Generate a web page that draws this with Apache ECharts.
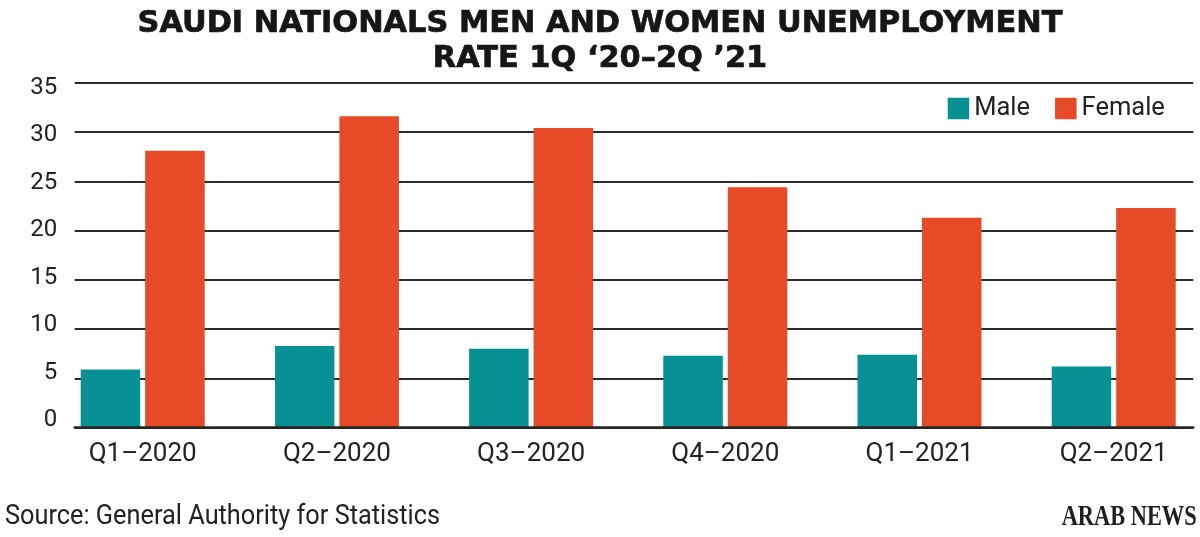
<!DOCTYPE html>
<html>
<head>
<meta charset="utf-8">
<script src="https://cdn.jsdelivr.net/npm/echarts@6/dist/echarts.min.js"></script>
<style>
  html, body { margin: 0; padding: 0; background: #ffffff; }
  #chart { width: 1200px; height: 537px; }
</style>
</head>
<body>
<div id="chart"></div>
<script>
// ---- data ----
const categories = ['Q1–2020', 'Q2–2020', 'Q3–2020', 'Q4–2020', 'Q1–2021', 'Q2–2021'];
const maleValues = [5.9, 8.3, 8.0, 7.3, 7.4, 6.2];
const femaleValues = [28.1, 31.6, 30.4, 24.4, 21.3, 22.3];
const seriesNames = ['Male', 'Female'];
const yMin = 0, yMax = 35, yStep = 5;
const titleLines = ['SAUDI NATIONALS MEN AND WOMEN UNEMPLOYMENT', 'RATE 1Q ‘20–2Q ’21'];
const sourceText = 'Source: General Authority for Statistics';
const logoText = 'ARAB NEWS';

// ---- helpers ----
const measureCtx = document.createElement('canvas').getContext('2d');
function fitScale(text, font, target) {
  measureCtx.font = font;
  return target / measureCtx.measureText(text).width;
}

const titleFont = 'bold 30px "DejaVu Sans"';
const sourceFont = '28px Roboto';
const logoFont = 'bold 30px "Liberation Serif"';
const titleScale = fitScale(titleLines[0], titleFont, 925);

const chart = echarts.init(document.getElementById('chart'), null, { renderer: 'canvas' });

const option = {
  backgroundColor: '#ffffff',
  animation: false,
  legend: {
    data: seriesNames,
    left: 947.7,
    top: 95.5,
    padding: 0,
    icon: 'rect',
    itemWidth: 21.5,
    itemHeight: 21.5,
    itemGap: 25,
    textStyle: { fontSize: 25.5, fontFamily: 'Roboto', color: '#222222', lineHeight: 22 }
  },
  grid: [
    { left: 74.7, right: 6.7, top: 82.7, height: 345, outerBoundsMode: 'none' },
    { left: 45.6, width: 1165.2, top: 82.7, height: 345, outerBoundsMode: 'none' },
    { left: 74.7, width: 1000, top: 87.5, height: 332.5, outerBoundsMode: 'none' }
  ],
  xAxis: [
    {
      gridIndex: 0, type: 'category', data: categories, z: 5,
      axisLabel: { show: false }, axisTick: { show: false },
      axisLine: { show: true, lineStyle: { color: '#262626', width: 2.5 } }
    },
    {
      gridIndex: 1, type: 'category', data: categories,
      axisLine: { show: false }, axisTick: { show: false },
      axisLabel: { fontSize: 26, fontFamily: 'Roboto', color: '#222222', margin: 14, lineHeight: 26 }
    },
    { gridIndex: 2, type: 'category', data: categories, show: false }
  ],
  yAxis: [
    {
      gridIndex: 0, type: 'value', min: yMin, max: yMax, interval: yStep,
      axisLabel: { show: false }, axisLine: { show: false }, axisTick: { show: false },
      splitLine: { show: true, lineStyle: { color: '#2b2b2b', width: 2 } }
    },
    { gridIndex: 1, type: 'value', min: yMin, max: yMax, interval: yStep, show: false },
    {
      gridIndex: 2, type: 'value', min: yMin, max: yMax, interval: yStep,
      axisLine: { show: false }, axisTick: { show: false }, splitLine: { show: false },
      axisLabel: { fontSize: 24, fontFamily: 'Roboto', color: '#222222', margin: 17.4 }
    }
  ],
  series: [
    {
      name: seriesNames[0], type: 'bar', xAxisIndex: 1, yAxisIndex: 1,
      data: maleValues, barWidth: 59.5, barGap: '8.4%',
      itemStyle: { color: '#079194' }
    },
    {
      name: seriesNames[1], type: 'bar', xAxisIndex: 1, yAxisIndex: 1,
      data: femaleValues, barWidth: 59.5, barGap: '8.4%',
      itemStyle: { color: '#e64a27' }
    }
  ],
  graphic: [
    {
      type: 'text', x: 600, y: 24, scaleX: titleScale,
      style: { text: titleLines[0], fontFamily: 'DejaVu Sans', fontWeight: 'bold', fontSize: 30,
               fill: '#161616', stroke: '#161616', lineWidth: 0.7, align: 'center', verticalAlign: 'middle' }
    },
    {
      type: 'text', x: 600, y: 59.5, scaleX: titleScale,
      style: { text: titleLines[1], fontFamily: 'DejaVu Sans', fontWeight: 'bold', fontSize: 30,
               fill: '#161616', stroke: '#161616', lineWidth: 0.7, align: 'center', verticalAlign: 'middle' }
    },
    {
      type: 'text', x: 5, y: 517, scaleX: fitScale(sourceText, sourceFont, 435),
      style: { text: sourceText, fontFamily: 'Roboto', fontSize: 28,
               fill: '#222222', align: 'left', verticalAlign: 'middle' }
    },
    {
      type: 'text', x: 1196.7, y: 517, scaleX: fitScale(logoText, logoFont, 135),
      style: { text: logoText, fontFamily: 'Liberation Serif', fontWeight: 'bold', fontSize: 30,
               fill: '#1e1e1e', align: 'right', verticalAlign: 'middle' }
    }
  ]
};

chart.setOption(option);
</script>
</body>
</html>
